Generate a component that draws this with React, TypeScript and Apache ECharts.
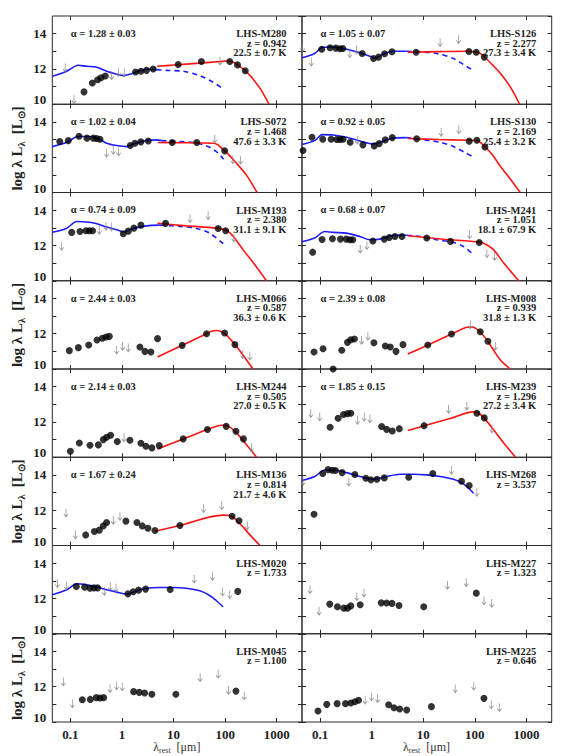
import React, { useEffect, useRef } from "react";
import * as echarts from "echarts";

// ---------- axis ticks ----------
const X_TICKS = [-1, 0, 1, 2, 3]; // log10(lambda_rest / um)
const X_TICK_LABELS: Record<string, string> = { "-1": "0.1", "0": "1", "1": "10", "2": "100", "3": "1000" };
const X_MIN = -1.35;
const X_MAX = 3.49;
const Y_MIN = 10;
const Y_MAX = 15;

// ---------- data: [log10 lambda_rest (um), log lambda L_lambda (Lsun)] ----------
// LHS-M280
const M280_det = [[-0.735,10.7],[-0.574,11.2],[-0.471,11.39],[-0.406,11.5],[-0.323,11.6],[0.265,11.83],[0.368,11.87],[0.477,11.92],[0.606,12.0],[1.09,12.25],[1.54,12.42],[2.09,12.42],[2.24,12.23],[2.39,11.9]];
const M280_ul = [[-1.1,12.06],[-0.93,10.25],[-0.2,11.62],[-0.07,11.8],[0.045,11.78],[1.9,12.44]];
const M280_blue = [[-1.35,11.58],[-1.07,11.87],[-0.845,12.21],[-0.684,12.15],[-0.49,12.1],[-0.297,11.87],[-0.135,11.73],[0.026,11.62],[0.19,11.73],[0.35,11.9],[0.54,11.98],[0.67,11.96]];
const M280_dash = [[0.67,11.96],[0.865,11.92],[1.19,11.87],[1.51,11.62],[1.77,11.24],[1.97,10.86]];
const M280_red = [[0.684,12.15],[1.0,12.22],[1.5,12.33],[1.9,12.42],[2.05,12.45],[2.15,12.4],[2.25,12.22],[2.4,11.87],[2.5,11.58],[2.6,11.2],[2.7,10.8],[2.85,10.0]];

// LHS-S126
const S126_det = [[-0.968,13.12],[-0.805,13.2],[-0.695,13.18],[-0.617,13.14],[-0.559,13.16],[-0.183,12.88],[0.037,12.59],[0.135,12.67],[0.251,12.86],[0.394,12.97],[0.861,12.95],[1.885,12.99],[2.028,12.95],[2.183,12.67]];
const S126_ul = [[-1.34,13.2],[-1.17,12.38],[-0.423,12.86],[-0.293,13.07],[1.327,13.49],[1.684,13.66]];
const S126_blue = [[-1.357,12.63],[-1.104,12.88],[-0.974,13.2],[-0.812,13.24],[-0.553,13.16],[-0.293,12.97],[-0.034,12.72],[0.063,12.61],[0.225,12.84],[0.42,13.0],[0.68,13.0]];
const S126_dash = [[0.68,13.0],[0.938,12.97],[1.26,12.88],[1.587,12.59],[1.78,12.25],[1.976,11.9]];
const S126_red = [[0.7,12.95],[1.3,12.98],[1.85,13.0],[2.0,12.97],[2.1,12.88],[2.2,12.65],[2.35,12.2],[2.49,11.77],[2.69,10.97],[2.87,10.0]];

// LHS-S072
const S072_det = [[-1.206,12.89],[-1.04,12.94],[-0.832,13.19],[-0.677,13.08],[-0.555,13.08],[-0.49,13.06],[-0.426,13.02],[0.161,12.66],[0.252,12.79],[0.368,12.87],[0.51,12.92],[0.974,12.83],[1.45,12.83],[1.99,12.36]];
const S072_ul = [[-0.297,12.23],[-0.168,12.38],[-0.065,12.3],[1.8,13.02],[2.15,11.85],[2.3,11.83]];
const S072_blue = [[-1.35,12.6],[-1.07,12.85],[-0.845,13.17],[-0.652,13.17],[-0.45,13.05],[-0.297,12.79],[-0.103,12.66],[0.09,12.6],[0.219,12.75],[0.477,12.94],[0.67,12.98],[0.768,12.94]];
const S072_dash = [[0.768,12.94],[1.06,12.89],[1.38,12.83],[1.64,12.64],[1.83,12.32],[1.97,11.89]];
const S072_red = [[0.7,12.83],[1.2,12.82],[1.77,12.79],[1.85,12.72],[1.9,12.6],[2.03,12.26],[2.22,11.66],[2.41,11.0],[2.57,10.25],[2.62,10.0]];

// LHS-S130
const S130_det = [[-1.33,12.38],[-1.156,13.13],[-0.948,13.02],[-0.786,13.02],[-0.676,13.0],[-0.611,13.0],[-0.553,13.02],[-0.417,12.85],[-0.17,12.7],[0.05,12.64],[0.147,12.77],[0.264,12.98],[0.4,13.11],[0.874,13.04],[1.891,12.91],[2.04,12.96],[2.196,12.58]];
const S130_ul = [[-0.28,12.96],[1.347,13.4],[1.69,13.55]];
const S130_blue = [[-1.357,12.72],[-1.104,12.94],[-0.955,13.28],[-0.747,13.26],[-0.488,13.13],[-0.228,12.92],[0.031,12.75],[0.16,12.83],[0.42,13.09],[0.68,13.11]];
const S130_dash = [[0.68,13.11],[1.0,12.98],[1.327,12.85],[1.587,12.6],[1.81,12.26],[1.976,12.0]];
const S130_red = [[0.7,13.06],[1.3,13.0],[1.85,12.96],[2.05,12.93],[2.2,12.58],[2.35,12.1],[2.49,11.5],[2.69,10.75],[2.88,10.0]];

// LHS-M193
const M193_det = [[-0.974,12.74],[-0.813,12.79],[-0.697,12.83],[-0.632,12.83],[-0.568,12.83],[0.026,12.66],[0.123,12.81],[0.232,12.98],[0.368,13.15],[0.845,13.25],[1.865,12.96],[2.01,12.83]];
const M193_ul = [[-1.17,11.94],[-0.44,12.85],[-0.31,13.08],[-0.2,13.05],[1.32,13.51],[1.67,13.68],[2.17,12.42]];
const M193_blue = [[-1.35,12.75],[-1.07,12.98],[-0.877,13.36],[-0.75,13.34],[-0.523,13.26],[-0.297,13.04],[-0.103,12.89],[0.026,12.77],[0.219,12.96],[0.477,13.11],[0.735,13.15]];
const M193_dash = [[0.735,13.15],[1.12,13.08],[1.45,12.96],[1.7,12.7],[1.97,12.08]];
const M193_red = [[0.69,13.26],[1.25,13.11],[1.83,12.98],[2.03,12.85],[2.16,12.51],[2.35,11.75],[2.55,11.0],[2.8,10.0]];

// LHS-M241
const M241_det = [[-1.143,11.62],[-0.961,12.34],[-0.76,12.38],[-0.605,12.36],[-0.494,12.36],[-0.423,12.32],[-0.365,12.32],[0.024,12.25],[0.245,12.36],[0.342,12.45],[0.452,12.51],[0.588,12.51],[1.068,12.42],[1.528,12.23],[2.086,12.17]];
const M241_ul = [[-0.222,11.79],[-0.092,11.98],[1.898,12.6],[2.235,11.53],[2.384,11.38]];
const M241_blue = [[-1.357,12.21],[-1.104,12.42],[-0.909,12.79],[-0.747,12.74],[-0.488,12.7],[-0.228,12.51],[-0.034,12.32],[0.16,12.36],[0.42,12.57],[0.68,12.58]];
const M241_dash = [[0.68,12.58],[0.938,12.51],[1.26,12.32],[1.587,12.17],[1.78,11.94],[1.976,11.47]];
const M241_red = [[0.7,12.55],[1.4,12.35],[2.086,12.19],[2.2,12.08],[2.365,11.75],[2.56,11.0],[2.85,10.0]];

// LHS-M066
const M066_det = [[-1.02,11.04],[-0.845,11.21],[-0.645,11.36],[-0.484,11.64],[-0.381,11.74],[-0.31,11.81],[-0.245,11.85],[0.348,11.25],[0.445,11.0],[0.561,10.96],[0.69,11.72],[1.168,11.34],[1.64,12.0],[1.99,12.04],[2.19,11.38]];
const M066_ul = [[-0.103,11.06],[0.013,11.28],[0.123,11.19],[2.34,10.81],[2.48,10.72]];
const M066_red = [[0.69,10.68],[1.17,11.35],[1.64,12.0],[1.75,12.15],[1.85,12.18],[1.95,12.08],[2.05,11.85],[2.19,11.38],[2.3,10.98],[2.54,10.0]];

// LHS-M008
const M008_det = [[-1.117,10.96],[-0.942,11.15],[-0.579,11.06],[-0.468,11.51],[-0.404,11.66],[-0.333,11.7],[0.044,11.49],[0.264,11.3],[0.361,11.25],[0.472,11.0],[0.608,11.38],[1.088,11.36],[1.548,11.98],[2.105,12.11],[2.254,11.57],[-0.747,10.0]];
const M008_ul = [[-0.196,11.62],[-0.073,11.85],[1.911,12.49],[2.397,11.28]];
const M008_red = [[0.7,10.85],[1.09,11.36],[1.55,11.98],[1.85,12.36],[1.95,12.38],[2.1,12.11],[2.25,11.57],[2.49,10.53],[2.69,10.0]];

// LHS-M244
const M244_det = [[-1.0,10.34],[-0.826,10.81],[-0.619,10.68],[-0.458,10.7],[-0.361,11.0],[-0.297,11.13],[-0.219,11.25],[-0.09,10.89],[0.155,10.96],[0.368,10.79],[0.465,10.62],[0.58,10.53],[0.723,10.66],[1.187,11.04],[1.658,11.57],[2.02,11.75],[2.21,11.47],[2.355,11.04]];
const M244_ul = [[0.039,11.09],[2.51,10.53]];
const M244_red = [[0.69,10.47],[1.19,11.04],[1.66,11.57],[1.93,11.81],[2.04,11.79],[2.22,11.38],[2.41,10.72],[2.61,10.0]];

// LHS-M239
const M239_det = [[-0.805,11.7],[-0.65,12.21],[-0.546,12.42],[-0.468,12.47],[-0.404,12.49],[0.193,11.74],[0.29,11.58],[0.4,11.49],[0.536,11.62],[1.016,11.79],[2.04,12.49],[2.183,12.23]];
const M239_ul = [[-1.18,12.47],[-1.006,12.28],[-0.274,12.08],[-0.144,12.26],[-0.034,12.17],[1.49,12.7],[1.846,12.89],[2.33,11.6]];
const M239_red = [[0.7,11.51],[1.02,11.79],[1.5,12.18],[1.976,12.57],[2.07,12.51],[2.18,12.23],[2.36,11.57],[2.56,10.81],[2.79,10.0]];

// LHS-M136
const M136_det = [[-0.703,10.6],[-0.535,10.79],[-0.439,10.87],[-0.361,11.11],[-0.297,11.3],[0.077,11.38],[0.29,11.3],[0.394,11.11],[0.503,10.98],[0.639,10.85],[1.123,11.13],[2.135,11.66],[2.27,11.4]];
const M136_ul = [[-1.084,11.83],[-0.903,10.6],[-0.168,11.42],[-0.039,11.64],[1.58,12.08],[1.935,12.25],[2.43,11.11]];
const M136_red = [[0.639,10.81],[1.12,11.13],[1.96,11.72],[2.09,11.7],[2.28,11.26],[2.48,10.6],[2.67,10.02]];

// LHS-M268
const M268_det = [[-1.117,11.77],[-0.948,14.08],[-0.844,14.3],[-0.767,14.26],[-0.702,14.25],[-0.572,14.13],[-0.326,14.02],[-0.112,13.81],[-0.015,13.72],[0.102,13.75],[0.245,13.83],[0.718,13.87],[1.185,14.08],[1.742,13.64],[1.891,13.4]];
const M268_ul = [[-1.33,13.62],[-0.442,13.58],[1.548,14.25],[2.04,13.0]];
const M268_blue = [[-1.357,13.68],[-1.104,13.91],[-0.909,14.28],[-0.747,14.28],[-0.488,14.13],[-0.228,13.91],[0.031,13.75],[0.29,13.91],[0.549,14.04],[0.809,14.04],[1.068,14.0],[1.327,13.91],[1.587,13.75],[1.78,13.49],[1.976,12.96]];

// LHS-M020
const M020_det = [[-0.884,12.68],[-0.723,12.64],[-0.619,12.58],[-0.542,12.6],[-0.471,12.6],[0.116,12.26],[0.219,12.38],[0.323,12.47],[0.458,12.53],[0.935,12.51],[2.245,12.4]];
const M020_ul = [[-1.25,12.83],[-1.077,12.7],[-0.342,12.4],[-0.226,12.66],[-0.116,12.58],[1.4,13.09],[1.755,13.25],[1.95,12.36],[2.09,12.21]];
const M020_blue = [[-1.35,12.21],[-1.07,12.49],[-0.877,12.83],[-0.684,12.77],[-0.49,12.66],[-0.297,12.49],[-0.103,12.36],[0.09,12.25],[0.284,12.43],[0.477,12.58],[0.735,12.62],[0.994,12.62],[1.25,12.58],[1.51,12.43],[1.7,12.17],[1.83,11.87],[1.96,11.53]];

// LHS-M227
const M227_det = [[-0.812,11.68],[-0.663,11.53],[-0.54,11.45],[-0.468,11.45],[-0.404,11.58],[-0.222,11.64],[0.186,11.75],[0.29,11.74],[0.394,11.72],[0.53,11.6],[1.01,11.53],[2.028,12.3]];
const M227_ul = [[-1.194,12.49],[-1.02,11.28],[-0.287,12.09],[-0.15,12.3],[1.47,12.74],[1.833,12.89],[2.177,11.85],[2.326,11.72]];

// LHS-M045
const M045_det = [[-0.768,11.26],[-0.613,11.28],[-0.497,11.38],[-0.426,11.36],[-0.355,11.38],[0.226,11.72],[0.335,11.68],[0.439,11.64],[0.58,11.57],[1.045,11.57],[2.21,11.75]];
const M045_ul = [[-1.135,12.26],[-0.961,11.02],[-0.232,11.89],[-0.103,12.04],[0.006,11.98],[1.516,12.51],[1.865,12.7],[2.065,11.79],[2.37,11.47]];

// LHS-M225
const M225_det = [[-1.04,10.62],[-0.87,11.0],[-0.669,11.04],[-0.507,11.04],[-0.404,11.08],[-0.326,11.15],[-0.254,11.23],[0.329,10.98],[0.433,10.81],[0.543,10.74],[0.679,10.68],[1.159,10.87],[2.177,11.34]];
const M225_ul = [[-0.125,11.23],[-0.002,11.42],[0.115,11.32],[1.62,11.87],[1.98,12.02],[2.319,10.96],[2.475,10.81]];

type Panel = {
  name: string; z: string; alpha?: string; temp?: string;
  det: number[][]; ul: number[][]; blue?: number[][]; dash?: number[][]; red?: number[][];
};

// row-major: left, right
const PANELS: Panel[] = [
  { name: "LHS-M280", z: "0.942", alpha: "1.28 ± 0.03", temp: "22.5 ± 0.7 K", det: M280_det, ul: M280_ul, blue: M280_blue, dash: M280_dash, red: M280_red },
  { name: "LHS-S126", z: "2.277", alpha: "1.05 ± 0.07", temp: "27.3 ± 3.4 K", det: S126_det, ul: S126_ul, blue: S126_blue, dash: S126_dash, red: S126_red },
  { name: "LHS-S072", z: "1.468", alpha: "1.02 ± 0.04", temp: "47.6 ± 3.3 K", det: S072_det, ul: S072_ul, blue: S072_blue, dash: S072_dash, red: S072_red },
  { name: "LHS-S130", z: "2.169", alpha: "0.92 ± 0.05", temp: "25.4 ± 3.2 K", det: S130_det, ul: S130_ul, blue: S130_blue, dash: S130_dash, red: S130_red },
  { name: "LHS-M193", z: "2.380", alpha: "0.74 ± 0.09", temp: "31.1 ± 9.1 K", det: M193_det, ul: M193_ul, blue: M193_blue, dash: M193_dash, red: M193_red },
  { name: "LHS-M241", z: "1.051", alpha: "0.68 ± 0.07", temp: "18.1 ± 67.9 K", det: M241_det, ul: M241_ul, blue: M241_blue, dash: M241_dash, red: M241_red },
  { name: "LHS-M066", z: "0.587", alpha: "2.44 ± 0.03", temp: "36.3 ± 0.6 K", det: M066_det, ul: M066_ul, red: M066_red },
  { name: "LHS-M008", z: "0.939", alpha: "2.39 ± 0.08", temp: "31.8 ± 1.3 K", det: M008_det, ul: M008_ul, red: M008_red },
  { name: "LHS-M244", z: "0.505", alpha: "2.14 ± 0.03", temp: "27.0 ± 0.5 K", det: M244_det, ul: M244_ul, red: M244_red },
  { name: "LHS-M239", z: "1.296", alpha: "1.85 ± 0.15", temp: "27.2 ± 3.4 K", det: M239_det, ul: M239_ul, red: M239_red },
  { name: "LHS-M136", z: "0.814", alpha: "1.67 ± 0.24", temp: "21.7 ± 4.6 K", det: M136_det, ul: M136_ul, red: M136_red },
  { name: "LHS-M268", z: "3.537", det: M268_det, ul: M268_ul, blue: M268_blue },
  { name: "LHS-M020", z: "1.733", det: M020_det, ul: M020_ul, blue: M020_blue },
  { name: "LHS-M227", z: "1.323", det: M227_det, ul: M227_ul },
  { name: "LHS-M045", z: "1.100", det: M045_det, ul: M045_ul },
  { name: "LHS-M225", z: "0.646", det: M225_det, ul: M225_ul },
];

// ---------- layout ----------
const ROW_TOP = 16;
const ROW_H = 88.25;
const COL_LEFT = [52.3, 302];
const COL_W = 249.7;
const SERIF = "'Liberation Serif', 'Times New Roman', serif";
const ARROW = "path://M4.2,0 H5.8 V13 L8.8,9.5 L10,10.5 L5,17 L0,10.5 L1.2,9.5 L4.2,13 Z";

function buildOption() {
  const grid: any[] = [];
  const xAxis: any[] = [];
  const yAxis: any[] = [];
  const series: any[] = [];
  const graphic: any[] = [];

  PANELS.forEach((p, i) => {
    const row = Math.floor(i / 2);
    const col = i % 2;
    const left = COL_LEFT[col];
    const top = ROW_TOP + row * ROW_H;
    grid.push({ left, top, width: COL_W, height: ROW_H, show: true, borderColor: "#2a2a2a", borderWidth: 1, backgroundColor: "transparent" });
    const bottomRow = row === 7;
    const tickStyle = { color: "#2a2a2a", width: 1 };
    const noLine = { show: false, onZero: false };
    xAxis.push({
      gridIndex: i, type: "value", min: X_MIN, max: X_MAX, position: "bottom",
      axisLine: noLine, splitLine: { show: false },
      axisTick: { show: true, inside: true, length: 4, customValues: X_TICKS, lineStyle: tickStyle },
      axisLabel: {
        show: bottomRow, customValues: X_TICKS, margin: 6,
        formatter: (v: number) => X_TICK_LABELS[String(Math.round(v))] ?? "",
        fontFamily: SERIF, fontWeight: "bold", fontSize: 13, color: "#222",
      },
    });
    xAxis.push({
      gridIndex: i, type: "value", min: X_MIN, max: X_MAX, position: "top",
      axisLine: noLine, splitLine: { show: false },
      axisTick: { show: true, inside: true, length: 4, customValues: X_TICKS, lineStyle: tickStyle },
      axisLabel: { show: false },
    });
    yAxis.push({
      gridIndex: i, type: "value", min: Y_MIN, max: Y_MAX, interval: 1, position: "left",
      axisLine: noLine, splitLine: { show: false },
      axisTick: { show: true, inside: true, length: 4, lineStyle: tickStyle },
      axisLabel: {
        show: col === 0, margin: 6, showMaxLabel: false,
        formatter: (v: number) => (v === 10 ? "{lo|10}" : v % 2 === 0 && v < 15 ? String(v) : ""),
        fontFamily: SERIF, fontWeight: "bold", fontSize: 13, color: "#222",
        rich: { lo: { fontFamily: SERIF, fontWeight: "bold", fontSize: 13, color: "#222", padding: [0, 0, 9, 0] } },
      },
    });
    yAxis.push({
      gridIndex: i, type: "value", min: Y_MIN, max: Y_MAX, interval: 1, position: "right",
      axisLine: noLine, splitLine: { show: false },
      axisTick: { show: true, inside: true, length: 4, lineStyle: tickStyle },
      axisLabel: { show: false },
    });
    const xi = 2 * i;
    const yi = 2 * i;
    if (p.blue) {
      series.push({ type: "line", xAxisIndex: xi, yAxisIndex: yi, data: p.blue, showSymbol: false, smooth: 0.3, clip: true, lineStyle: { color: "#1c1cff", width: 1.6 }, z: 2 });
    }
    if (p.dash) {
      series.push({ type: "line", xAxisIndex: xi, yAxisIndex: yi, data: p.dash, showSymbol: false, smooth: 0.3, clip: true, lineStyle: { color: "#1c1cff", width: 1.6, type: [5, 4] }, z: 2 });
    }
    if (p.red) {
      series.push({ type: "line", xAxisIndex: xi, yAxisIndex: yi, data: p.red, showSymbol: false, smooth: 0.3, clip: true, lineStyle: { color: "#ff1414", width: 1.6 }, z: 3 });
    }
    series.push({ type: "scatter", xAxisIndex: xi, yAxisIndex: yi, data: p.ul, symbol: ARROW, symbolSize: [5, 9], itemStyle: { color: "#808080" }, z: 4, clip: false });
    series.push({ type: "scatter", xAxisIndex: xi, yAxisIndex: yi, data: p.det, symbol: "circle", symbolSize: 7, itemStyle: { color: "#000" }, z: 5, clip: false });

    const txt = (x: number, y: number, text: string, align: string) => ({
      type: "text", x, y, z: 10,
      style: { text, fontFamily: SERIF, fontWeight: "bold", fontSize: 10.5, fill: "#222", align, verticalAlign: "middle" },
    });
    if (p.alpha) graphic.push(txt(left + 18.5, top + 17.3, "α = " + p.alpha, "left"));
    const rx = left + COL_W - 15.5;
    graphic.push(txt(rx, top + 17.5, p.name, "right"));
    graphic.push(txt(rx, top + 27.2, "z = " + p.z, "right"));
    if (p.temp) graphic.push(txt(rx, top + 36.9, p.temp, "right"));
  });

  // y-axis titles (one per pair of rows)
  [1, 3, 5, 7].forEach((r) => {
    graphic.push({
      type: "text", x: 17, y: ROW_TOP + r * ROW_H + ROW_H / 2, rotation: Math.PI / 2, z: 10,
      style: {
        text: "{n|log λ L}{s|λ}{n|  [L}{s|⊙}{n|]}",
        align: "center", verticalAlign: "middle",
        rich: {
          n: { fontFamily: SERIF, fontWeight: "bold", fontSize: 15, lineHeight: 18, fill: "#222" },
          s: { fontFamily: SERIF, fontWeight: "bold", fontSize: 10, lineHeight: 11, padding: [8, 0, 0, 0], fill: "#222" },
        },
      },
    });
  });
  // x-axis titles
  COL_LEFT.forEach((l) => {
    graphic.push({
      type: "text", x: l + 124.5, y: 747, z: 10,
      style: {
        text: "{n|λ}{s|rest}{n|  [μm]}",
        align: "center", verticalAlign: "middle",
        rich: {
          n: { fontFamily: SERIF, fontSize: 12, lineHeight: 14, fill: "#333" },
          s: { fontFamily: SERIF, fontSize: 8, lineHeight: 9, padding: [6, 0, 0, 0], fill: "#333" },
        },
      },
    });
  });

  return { animation: false, backgroundColor: "#fff", grid, xAxis, yAxis, series, graphic };
}

export default function App() {
  const ref = useRef<HTMLDivElement>(null);
  useEffect(() => {
    const chart = echarts.init(ref.current!, null, { renderer: "svg" });
    chart.setOption(buildOption() as any);
    return () => chart.dispose();
  }, []);
  return <div ref={ref} style={{ position: "absolute", left: 0, top: 0, width: 567, height: 756, background: "#fff" }} />;
}
